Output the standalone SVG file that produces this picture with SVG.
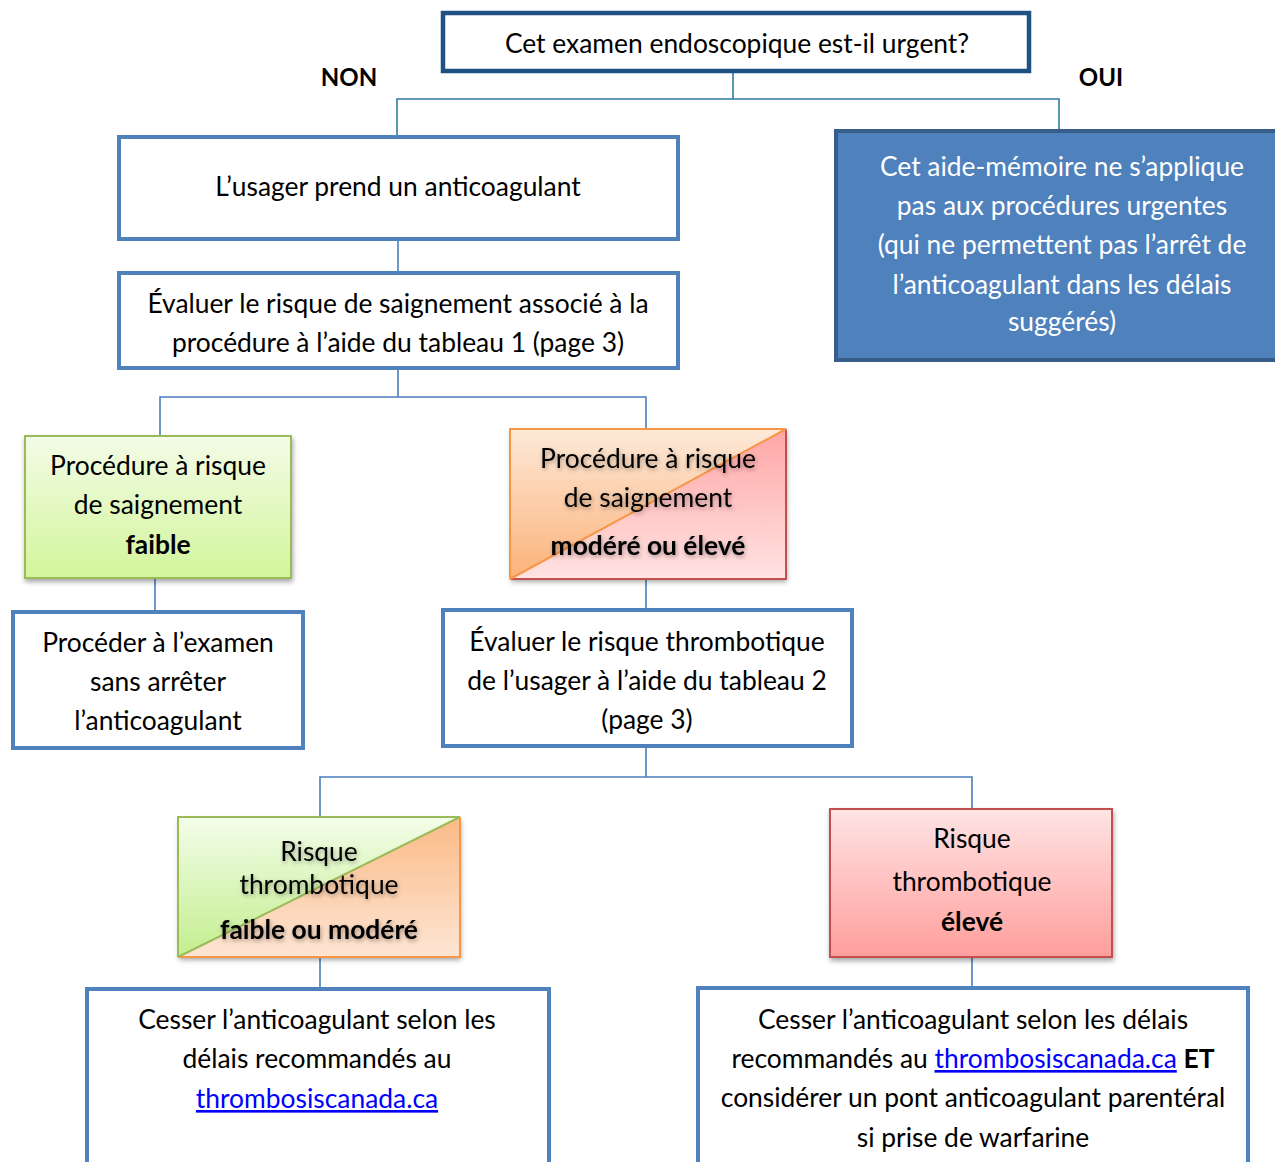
<svg xmlns="http://www.w3.org/2000/svg" width="1275" height="1162" viewBox="0 0 1275 1162">
<defs>
<style>
text{font-family:Lato,"Open Sans","Liberation Sans",sans-serif;font-size:26.4px;fill:#000;text-anchor:middle}
.b{font-weight:bold}
.lbl{font-size:24px}
.w{fill:#fff}
.lnk{fill:#0000FF;text-decoration:underline}
.box{fill:#fff;stroke:#4F81BD;stroke-width:4}
.con{fill:none;stroke:#4A7EBB;stroke-width:1.6}
</style>
<linearGradient id="gGreen" x1="0" y1="0" x2="0" y2="1"><stop offset="0" stop-color="#F3FCE7"/><stop offset="1" stop-color="#D3F59B"/></linearGradient>
<linearGradient id="gRed" x1="0" y1="0" x2="0" y2="1"><stop offset="0" stop-color="#FFE4E4"/><stop offset="1" stop-color="#FF9E9C"/></linearGradient>
<linearGradient id="gOrTop" x1="0" y1="0" x2="0" y2="1"><stop offset="0" stop-color="#FDE9D8"/><stop offset="1" stop-color="#FBB27A"/></linearGradient>
<linearGradient id="gPinkBot" x1="0" y1="0" x2="0" y2="1"><stop offset="0" stop-color="#FFA6A6"/><stop offset="1" stop-color="#FFE3E2"/></linearGradient>
<linearGradient id="gGrTop" x1="0" y1="0" x2="0" y2="1"><stop offset="0" stop-color="#F3FDE9"/><stop offset="1" stop-color="#C3EE8E"/></linearGradient>
<linearGradient id="gOrBot" x1="0" y1="0" x2="0" y2="1"><stop offset="0" stop-color="#FBBA86"/><stop offset="1" stop-color="#FDE5D3"/></linearGradient>
<filter id="sh" x="-10%" y="-10%" width="125%" height="130%"><feDropShadow dx="1" dy="3" stdDeviation="2.5" flood-color="#000" flood-opacity="0.35"/></filter>
<filter id="tsh" x="-10%" y="-30%" width="120%" height="170%"><feDropShadow dx="1" dy="2" stdDeviation="2" flood-color="#000" flood-opacity="0.35"/></filter>
</defs>

<g id="connectors">
<polyline class="con" style="stroke:#2F7AA6" points="733,72 733,99"/>
<polyline class="con" style="stroke:#2F7AA6" points="397,136 397,99 1059,99 1059,130"/>
<polyline class="con" points="398,240 398,272"/>
<polyline class="con" points="398,369 398,397"/>
<polyline class="con" points="160,436 160,397 646,397 646,429"/>
<polyline class="con" points="155,578 155,611"/>
<polyline class="con" points="646,579 646,609"/>
<polyline class="con" points="646,747 646,777"/>
<polyline class="con" points="320,817 320,777 972,777 972,809"/>
<polyline class="con" points="320,957 320,988"/>
<polyline class="con" points="972,957 972,987"/>
</g>

<g id="label-non"><text class="b lbl" x="349" y="86">NON</text></g>
<g id="label-oui"><text class="b lbl" x="1101" y="86">OUI</text></g>

<g id="n-urgent">
<rect x="443" y="13" width="586" height="58" fill="#fff" stroke="#1F5282" stroke-width="4.5"/>
<text x="737" y="53">Cet examen endoscopique est-il urgent?</text>
</g>

<g id="n-usager">
<rect class="box" x="119" y="137" width="559" height="102"/>
<text x="398" y="196">L’usager prend un anticoagulant</text>
</g>

<g id="n-evaluer1">
<rect class="box" x="119" y="273" width="559" height="95"/>
<text x="398" y="313">Évaluer le risque de saignement associé à la</text>
<text x="398" y="352">procédure à l’aide du tableau 1 (page 3)</text>
</g>

<g id="n-urgentes">
<rect x="836" y="131" width="445" height="229" fill="#4F81BD" stroke="#385D8A" stroke-width="4"/>
<text class="w" x="1062" y="176">Cet aide-mémoire ne s’applique</text>
<text class="w" x="1062" y="215">pas aux procédures urgentes</text>
<text class="w" x="1062" y="254">(qui ne permettent pas l’arrêt de</text>
<text class="w" x="1062" y="294">l’anticoagulant dans les délais</text>
<text class="w" x="1062" y="331">suggérés)</text>
</g>

<g id="n-faible">
<rect x="25" y="436" width="266" height="142" fill="url(#gGreen)" stroke="#9BBB59" stroke-width="2" filter="url(#sh)"/>
<text x="158" y="475">Procédure à risque</text>
<text x="158" y="514">de saignement</text>
<text class="b" x="158" y="554">faible</text>
</g>

<g id="n-modere">
<g filter="url(#sh)">
<polygon points="510,429 786,429 510,579" fill="url(#gOrTop)"/>
<polygon points="786,429 786,579 510,579" fill="url(#gPinkBot)"/>
</g>
<polyline points="786,429 786,579 510,579" fill="none" stroke="#C0504D" stroke-width="2"/>
<polyline points="510,579 510,429 786,429" fill="none" stroke="#F79646" stroke-width="2"/>
<line x1="510" y1="579" x2="786" y2="429" stroke="#F79646" stroke-width="2"/>
<g filter="url(#tsh)">
<text x="648" y="468">Procédure à risque</text>
<text x="648" y="507">de saignement</text>
<text class="b" x="648" y="555">modéré ou élevé</text>
</g>
</g>

<g id="n-proceder">
<rect class="box" x="13" y="612" width="290" height="136"/>
<text x="158" y="652">Procéder à l’examen</text>
<text x="158" y="691">sans arrêter</text>
<text x="158" y="730">l’anticoagulant</text>
</g>

<g id="n-evaluer2">
<rect class="box" x="443" y="610" width="409" height="136"/>
<text x="647" y="651">Évaluer le risque thrombotique</text>
<text x="647" y="690">de l’usager à l’aide du tableau 2</text>
<text x="647" y="729">(page 3)</text>
</g>

<g id="n-thrombo-faible">
<g filter="url(#sh)">
<polygon points="178,817 460,817 178,957" fill="url(#gGrTop)"/>
<polygon points="460,817 460,957 178,957" fill="url(#gOrBot)"/>
</g>
<polyline points="460,817 460,957 178,957" fill="none" stroke="#F79646" stroke-width="2"/>
<polyline points="178,957 178,817 460,817" fill="none" stroke="#9BBB59" stroke-width="2"/>
<line x1="178" y1="957" x2="460" y2="817" stroke="#9BBB59" stroke-width="2"/>
<g filter="url(#tsh)">
<text x="319" y="861">Risque</text>
<text x="319" y="894">thrombotique</text>
<text class="b" x="319" y="939">faible ou modéré</text>
</g>
</g>

<g id="n-thrombo-eleve">
<rect x="830" y="809" width="282" height="148" fill="url(#gRed)" stroke="#C0504D" stroke-width="2" filter="url(#sh)"/>
<text x="972" y="848">Risque</text>
<text x="972" y="891">thrombotique</text>
<text class="b" x="972" y="931">élevé</text>
</g>

<g id="n-cesser1">
<rect class="box" x="87" y="989" width="462" height="200"/>
<text x="317" y="1029">Cesser l’anticoagulant selon les</text>
<text x="317" y="1068">délais recommandés au</text>
<text class="lnk" x="317" y="1108">thrombosiscanada.ca</text>
</g>

<g id="n-cesser2">
<rect class="box" x="698" y="988" width="550" height="200"/>
<text x="973" y="1029">Cesser l’anticoagulant selon les délais</text>
<text x="973" y="1068">recommandés au <tspan class="lnk">thrombosiscanada.ca</tspan> <tspan class="b">ET</tspan></text>
<text x="973" y="1107">considérer un pont anticoagulant parentéral</text>
<text x="973" y="1147">si prise de warfarine</text>
</g>
</svg>
